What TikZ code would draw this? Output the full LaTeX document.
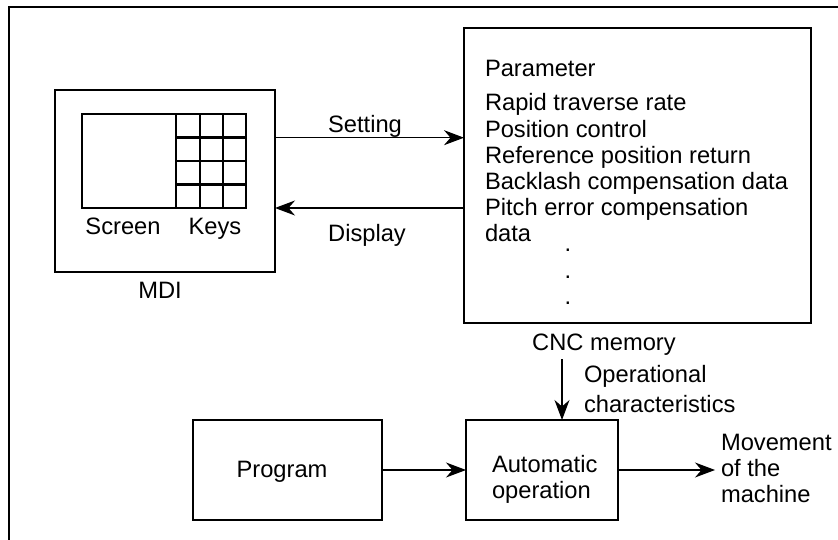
\documentclass[tikz,border=0pt]{standalone}
\usepackage{fontspec}
\setmainfont{Liberation Sans}
\usetikzlibrary{arrows.meta}
\begin{document}
\begin{tikzpicture}[x=1pt,y=-1pt,
  txt/.style={inner sep=0pt, outer sep=0pt, font=\fontsize{23.7}{26.4}\selectfont},
  box/.style={draw, line width=2.2pt, inner sep=0pt, outer sep=0pt, rectangle},
  arr/.style={line width=1.1pt, -{Stealth[length=20pt,width=15pt,inset=6.5pt]}},
  frameline/.style={line width=1.6pt}]
\useasboundingbox (0,0) rectangle (838,540);
% frame
\coordinate (f0) at (9,540);
\coordinate (f1) at (9,7);
\coordinate (f2) at (838,7);
\draw[frameline] (f0) -- (f1) -- (f2);
% MDI
\node[box, minimum width=220pt, minimum height=182pt] (mdi) at (165,181) {};
\node[box, minimum width=94pt, minimum height=94pt] (screen) at (129,161) {};
\node[box, minimum width=70pt, minimum height=94pt] (keys) at (211,161) {};
\foreach \xx in {200,223} \draw[line width=2.2pt] (\xx,114) -- (\xx,208);
\foreach \yy in {137.5,161,184.5} \draw[line width=2.2pt] (176,\yy) -- (246,\yy);
\node[txt, anchor=base] (screent) at (123,234) {Screen};
\node[txt, anchor=base] (keyst) at (215,234) {Keys};
\node[txt, anchor=base] (mdit) at (160,298) {MDI};
% Parameter box
\node[box, minimum width=347pt, minimum height=295pt] (param) at (637.5,175.5) {};
\node[txt, anchor=base west] (pt) at (485,77) {Parameter};
\foreach \t [count=\i] in {Rapid traverse rate, Position control, Reference position return, Backlash compensation data, Pitch error compensation, data}
  \node[txt, anchor=base west] (p\i) at (485,{111+26.2*(\i-1)}) {\t};
\foreach \yy [count=\i] in {251.5,278.5,304.5}
  \node[txt, anchor=base] (dot\i) at (568,\yy) {.};
% Setting / Display
\coordinate (ys) at (0,137.7);
\coordinate (yd) at (0,208);
\draw[arr] (mdi.east |- ys) -- (param.west |- ys);
\draw[arr] (param.west |- yd) -- (mdi.east |- yd);
\node[txt, anchor=base] (sett) at (365,133) {Setting};
\node[txt, anchor=base] (dispt) at (367,242) {Display};
% CNC memory
\node[txt, anchor=base] (cnc) at (604,350) {CNC memory};
\node[txt, anchor=base west] (op1) at (584,382) {Operational};
\node[txt, anchor=base west] (op2) at (584,412) {characteristics};
% Program / Automatic operation
\node[box, minimum width=189pt, minimum height=100pt] (prog) at (287.5,470) {};
\node[txt, anchor=base] (progt) at (282,477) {Program};
\node[box, minimum width=152pt, minimum height=100pt] (auto) at (542,470) {};
\node[txt, anchor=base west] (a1) at (492,472) {Automatic};
\node[txt, anchor=base west] (a2) at (492,498) {operation};
\coordinate (cd) at (562,359);
\draw[arr] (cd) -- (auto.north -| cd);
\draw[arr] (prog.east) -- (auto.west);
\coordinate (mv) at (715,470);
\draw[arr] (auto.east) -- (mv);
\node[txt, anchor=base west] (m1) at (721,450) {Movement};
\node[txt, anchor=base west] (m2) at (721,476) {of the};
\node[txt, anchor=base west] (m3) at (721,502) {machine};
\end{tikzpicture}
\end{document}
